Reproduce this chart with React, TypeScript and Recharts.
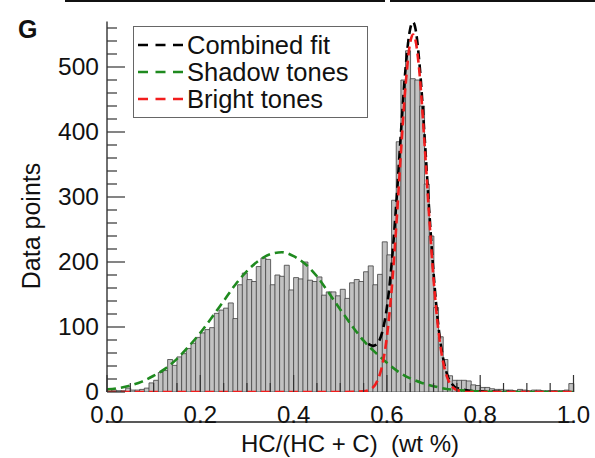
import React from "react";
import { ComposedChart, Bar, Line, XAxis, YAxis, Legend, Label } from "recharts";

// histogram: counts per 0.01-wide bin from 0.00 to 1.00
const BIN_WIDTH = 0.01;
const HIST_COUNTS = [
  4, 3, 2, 2, 6, 3, 3, 4, 6, 14,
  18, 30, 33, 50, 41, 54, 59, 67, 75, 84,
  91, 96, 99, 121, 126, 129, 137, 113, 165, 183,
  173, 170, 193, 206, 204, 165, 180, 178, 195, 157,
  176, 174, 200, 172, 170, 177, 149, 154, 154, 148,
  158, 144, 168, 173, 170, 185, 194, 165, 181, 231,
  211, 295, 385, 480, 525, 482, 480, 440, 320, 240,
  130, 85, 50, 25, 18, 18, 18, 17, 11, 10,
  7, 7, 5, 4, 4, 3, 3, 2, 4, 3,
  2, 3, 3, 2, 2, 2, 2, 2, 3, 13,
];

// fitted curves
const SHADOW_X = [0, 0.025, 0.05, 0.075, 0.1, 0.125, 0.15, 0.175, 0.2, 0.225, 0.25, 0.275, 0.3, 0.325, 0.35, 0.375, 0.4, 0.425, 0.45, 0.475, 0.5, 0.525, 0.55, 0.575, 0.6, 0.625, 0.65, 0.675, 0.7, 0.725, 0.75, 0.8, 0.85, 0.9, 1.0];
const SHADOW_Y = [4, 6, 10, 16, 25, 36, 51, 70, 91, 115, 140, 165, 186, 202, 212, 215, 209, 197, 178, 153, 127, 102, 79, 61, 45, 31, 21, 14, 9, 5, 3, 1, 0, 0, 0];

const BRIGHT_X = [0, 0.5, 0.55, 0.57, 0.58, 0.59, 0.6, 0.61, 0.62, 0.63, 0.64, 0.65, 0.656, 0.66, 0.67, 0.68, 0.69, 0.7, 0.71, 0.72, 0.73, 0.74, 0.75, 0.77, 0.8, 1.0];
const BRIGHT_Y = [0, 0, 1, 7, 18, 41, 85, 156, 254, 368, 472, 538, 550, 545, 490, 390, 277, 174, 97, 48, 21, 8, 3, 0, 0, 0];

const COMBINED_X = [0.56, 0.57, 0.58, 0.59, 0.6, 0.61, 0.62, 0.63, 0.64, 0.65, 0.656, 0.66, 0.67, 0.68, 0.69, 0.7, 0.71, 0.72, 0.73, 0.74, 0.75, 0.8, 0.9, 1.0];
const COMBINED_Y = [74, 71, 75, 92, 130, 196, 289, 398, 498, 559, 569, 563, 504, 402, 287, 183, 104, 54, 25, 12, 6, 1, 0, 0];

const X_TICKS = [0, 0.05, 0.1, 0.15, 0.2, 0.25, 0.3, 0.35, 0.4, 0.45, 0.5, 0.55, 0.6, 0.65, 0.7, 0.75, 0.8, 0.85, 0.9, 0.95, 1.0];
const Y_TICKS = [0, 20, 40, 60, 80, 100, 120, 140, 160, 180, 200, 220, 240, 260, 280, 300, 320, 340, 360, 380, 400, 420, 440, 460, 480, 500, 520, 540, 560];

const LEGEND_NAMES = ["Combined fit", "Shadow tones", "Bright tones"];
const LEGEND_COLORS = ["#000000", "#1f8a1f", "#f21d1d"];

const FONT = "'Liberation Sans', Arial, Helvetica, sans-serif";
const W = 595;
const H = 458;
const X_AXIS_H = 66;
const AXIS_Y = H - X_AXIS_H; // bottom of the plot area
const Y_TICK_MARGIN = 8;

const histRows = HIST_COUNTS.map((count, i) => ({ bin: (i * BIN_WIDTH).toFixed(2), count }));
const zip = (xs: number[], ys: number[]) => xs.map((x, i) => ({ x, y: ys[i] }));
const shadowRows = zip(SHADOW_X, SHADOW_Y);
const brightRows = zip(BRIGHT_X, BRIGHT_Y);
const combinedRows = zip(COMBINED_X, COMBINED_Y);

function YTick({ x, y, payload }: any) {
  const major = payload.value % 100 === 0;
  const ax = x + Y_TICK_MARGIN;
  return (
    <g>
      <line x1={ax} x2={ax + (major ? 18 : 10)} y1={y} y2={y} stroke="#333" strokeWidth={1.2} />
      {major && (
        <text x={x} y={y} dy="0.34em" textAnchor="end" fontSize={24.5} fontFamily={FONT} fill="#111">
          {payload.value}
        </text>
      )}
    </g>
  );
}

function XTick({ x, payload }: any) {
  const v = payload.value;
  const major = Math.round(v * 100) % 20 === 0;
  return (
    <g>
      <line x1={x} x2={x} y1={AXIS_Y} y2={AXIS_Y - (major ? 17 : 9)} stroke="#333" strokeWidth={1.2} />
      {major && (
        <text x={x} y={AXIS_Y + 31} textAnchor="middle" fontSize={24} fontFamily={FONT} fill="#111">
          {v.toFixed(1)}
        </text>
      )}
    </g>
  );
}

function LegendBox() {
  return (
    <div style={{ border: "1px solid #666", background: "#fff", width: 235, height: 92, boxSizing: "border-box", paddingTop: 4, fontFamily: FONT }}>
      {LEGEND_NAMES.map((name, i) => (
        <div key={name} style={{ display: "flex", alignItems: "center", height: 27 }}>
          <svg width={52} height={27}>
            <line x1={4} x2={50} y1={14} y2={14} stroke={LEGEND_COLORS[i]} strokeWidth={2.6} strokeDasharray="10 7.5" />
          </svg>
          <span style={{ fontSize: 25.5, color: "#111", marginLeft: 1, lineHeight: "26px", whiteSpace: "nowrap" }}>{name}</span>
        </div>
      ))}
    </div>
  );
}

export default function App() {
  return (
    <div style={{ position: "absolute", left: 0, top: 0, width: W, height: H, background: "#fff", fontFamily: FONT }}>
      {/* edge of the panel above */}
      <div style={{ position: "absolute", left: 65, top: 0, width: 320, height: 2, background: "#111" }} />
      <div style={{ position: "absolute", left: 390, top: 0, width: 205, height: 2, background: "#111" }} />
      <div style={{ position: "absolute", left: 18, top: 15, fontSize: 25, lineHeight: "28px", fontWeight: "bold", color: "#111" }}>G</div>

      <ComposedChart width={W} height={H} data={histRows} barCategoryGap={0} barGap={0}
        margin={{ top: 21.5, right: 21.5, bottom: 0, left: 0 }}>
        <Bar xAxisId="bins" dataKey="count" fill="#c2c2c2" stroke="#404040" strokeWidth={0.8} isAnimationActive={false} />
        <Line xAxisId="v" data={combinedRows} dataKey="y" type="monotone" stroke={LEGEND_COLORS[0]} strokeWidth={2.6}
          strokeDasharray="9 5" dot={false} activeDot={false} isAnimationActive={false} />
        <Line xAxisId="v" data={shadowRows} dataKey="y" type="monotone" stroke={LEGEND_COLORS[1]} strokeWidth={2.6}
          strokeDasharray="9 5" dot={false} activeDot={false} isAnimationActive={false} />
        <Line xAxisId="v" data={brightRows} dataKey="y" type="monotone" stroke={LEGEND_COLORS[2]} strokeWidth={2.6}
          strokeDasharray="9 5" dot={false} activeDot={false} isAnimationActive={false} />

        <XAxis xAxisId="bins" dataKey="bin" type="category" hide />
        <XAxis xAxisId="v" dataKey="x" type="number" domain={[0, 1]} allowDataOverflow ticks={X_TICKS} interval={0}
          height={X_AXIS_H} tickSize={0} tickMargin={0} tickLine={false} tick={<XTick />}
          axisLine={{ stroke: "#222", strokeWidth: 1.3 }}>
          <Label content={() => (
            <text x={350} y={452} textAnchor="middle" fontSize={24} fontFamily={FONT} fill="#111">
              {"HC/(HC + C)\u00a0 (wt %)"}
            </text>
          )} />
        </XAxis>
        <YAxis domain={[0, 570]} allowDataOverflow ticks={Y_TICKS} interval={0} width={107}
          tickSize={0} tickMargin={Y_TICK_MARGIN} tickLine={false} tick={<YTick />}
          axisLine={{ stroke: "#222", strokeWidth: 1.3 }}>
          <Label content={() => (
            <text transform="translate(31,226) rotate(-90)" textAnchor="middle" dy="0.35em" fontSize={25} fontFamily={FONT} fill="#111">
              Data points
            </text>
          )} />
        </YAxis>
        <Legend content={() => <LegendBox />} layout="horizontal" verticalAlign="middle" align="center"
          wrapperStyle={{ left: 133, top: 26, width: 235, height: 92 }} />
      </ComposedChart>
    </div>
  );
}
